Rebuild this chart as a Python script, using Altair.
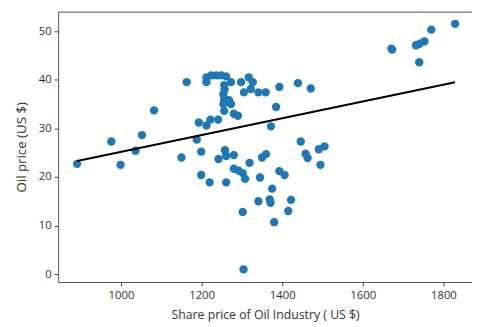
import altair as alt
import pandas as pd

share_price = [
    1829, 1770, 1732, 1741, 1753, 1671, 1673, 1740,
    891, 976, 999, 1052, 1036, 1082, 1150, 1163, 1188, 1199, 1199, 1220,
    1261, 1242, 1258, 1261, 1280, 1319, 1280, 1292, 1302, 1308, 1345, 1350,
    1360, 1393, 1406, 1375, 1341, 1369, 1371, 1422, 1415, 1302, 1380, 1446,
    1458, 1463, 1491, 1505, 1495, 1304,
    1193, 1212, 1222, 1241, 1372, 1385, 1393, 1439, 1471,
    1212, 1224, 1237, 1249, 1261, 1212, 1256, 1273, 1298, 1317, 1327, 1305,
    1322, 1341, 1359, 1256, 1268, 1254, 1254, 1273, 1256, 1280, 1290, 1257,
]
oil_price = [
    51.5, 50.3, 47.1, 47.4, 47.9, 46.4, 46.2, 43.6,
    22.7, 27.3, 22.5, 28.6, 25.4, 33.7, 24.0, 39.5, 27.7, 25.2, 20.4, 18.9,
    18.9, 23.7, 25.5, 24.3, 24.5, 22.9, 21.7, 21.3, 20.8, 19.6, 19.9, 24.0,
    24.7, 21.2, 20.4, 17.6, 15.0, 15.4, 14.7, 15.3, 13.0, 12.8, 10.7, 27.3,
    24.8, 23.9, 25.7, 26.3, 22.5, 1.0,
    31.2, 30.6, 31.8, 31.8, 30.4, 34.4, 38.5, 39.3, 38.2,
    40.5, 40.9, 40.9, 40.9, 40.7, 39.5, 38.9, 39.5, 39.5, 40.5, 39.5, 37.4,
    38.1, 37.4, 37.4, 36.0, 35.8, 37.0, 35.0, 35.0, 33.6, 33.0, 32.6, 38.0,
]

# fitted regression line (as drawn in the reference)
fit_share = [891, 1829]
fit_oil = [23.3, 39.5]

df = pd.DataFrame({"share": share_price, "oil": oil_price})
fit_df = pd.DataFrame({"share": fit_share, "oil": fit_oil})

x_scale = alt.Scale(domain=[844, 1871], nice=False, zero=False)
y_scale = alt.Scale(domain=[-1.6, 54.0], nice=False, zero=False)

x_axis = alt.Axis(
    title="Share price of Oil Industry ( US $)", values=[1000, 1200, 1400, 1600, 1800],
    format="d", grid=False, tickSize=4, labelFontSize=11.5, titleFontSize=12.5,
    labelColor="#333", titleColor="#333", titleFontWeight="normal", titlePadding=8,
    domain=False, tickColor="#444", labelPadding=4,
)
y_axis = alt.Axis(
    title="Oil price (US $)", values=[0, 10, 20, 30, 40, 50], format="d",
    grid=False, tickSize=4, labelFontSize=11.5, titleFontSize=13.5, labelColor="#333",
    titleColor="#333", titleFontWeight="normal", titlePadding=10, domain=False,
    tickColor="#444", labelPadding=3,
)

points = alt.Chart(df).mark_circle(size=72, opacity=1, color="#1f77b4").encode(
    x=alt.X("share:Q", scale=x_scale, axis=x_axis),
    y=alt.Y("oil:Q", scale=y_scale, axis=y_axis),
)

line = alt.Chart(fit_df).mark_line(color="black", strokeWidth=2).encode(
    x=alt.X("share:Q", scale=x_scale),
    y=alt.Y("oil:Q", scale=y_scale),
)

chart = alt.layer(points, line).properties(
    width=421, height=275,
    autosize=alt.AutoSizeParams(type="none"),
    padding={"left": 51, "top": 1, "right": 0, "bottom": 40},
).configure(
    font="Open Sans",
    view=alt.ViewConfig(stroke="#555", strokeWidth=1),
)

chart.save("out.html", embed_options={"renderer": "svg", "actions": False})
